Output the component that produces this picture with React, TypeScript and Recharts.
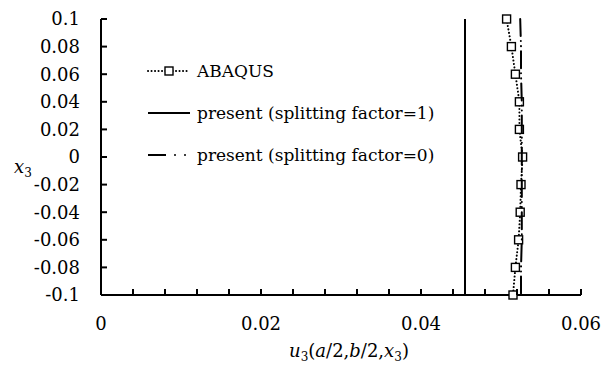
import React from 'react'
import { ScatterChart, Scatter, XAxis, YAxis, Legend } from 'recharts'

// x3 positions through the thickness (top to bottom)
const X3 = [0.1, 0.08, 0.06, 0.04, 0.02, 0, -0.02, -0.04, -0.06, -0.08, -0.1]

// u3(a/2, b/2, x3)
const U3_ABAQUS = [0.0507, 0.0513, 0.0518, 0.0523, 0.0523, 0.0527, 0.0525, 0.0524, 0.0522, 0.0518, 0.0515]
const U3_SF1 = [0.0455, 0.0455, 0.0455, 0.0455, 0.0455, 0.0455, 0.0455, 0.0455, 0.0455, 0.0455, 0.0455]
const U3_SF0 = [0.0524, 0.0525, 0.0525, 0.0526, 0.0526, 0.0526, 0.0526, 0.0526, 0.0526, 0.0525, 0.0525]

const X_TICKS = [0, 0.004, 0.008, 0.012, 0.016, 0.02, 0.024, 0.028, 0.032, 0.036, 0.04, 0.044, 0.048, 0.052, 0.056, 0.06]
const X_LABELS = [0, 0.02, 0.04, 0.06]
const Y_TICKS = [-0.1, -0.08, -0.06, -0.04, -0.02, 0, 0.02, 0.04, 0.06, 0.08, 0.1]

const FONT = 'DejaVu Serif'
const X_MARGIN = 22
const Y_MARGIN = 21

const toPoints = (u: number[]) => u.map((v, i) => ({ x: v, y: X3[i] }))

const abaqus = toPoints(U3_ABAQUS)
const sf1 = toPoints(U3_SF1)
const sf0 = toPoints(U3_SF0)

// ticks point inward, labels only every 0.02 on x
const XTick = (props: any) => {
  const { x, y, payload } = props
  const axisY = Number(y) - X_MARGIN
  const v = payload.value
  return (
    <g>
      <path d={`M${x},${axisY}V${axisY - 6}`} stroke="#000" strokeWidth={2} fill="none" />
      {X_LABELS.includes(v) && (
        <text x={x} y={y} dy="0.71em" textAnchor="middle" fontFamily={FONT} fontSize={18} fill="#000">
          {String(v)}
        </text>
      )}
    </g>
  )
}

const YTick = (props: any) => {
  const { x, y, payload } = props
  const axisX = Number(x) + Y_MARGIN
  return (
    <g>
      <path d={`M${axisX},${y}H${axisX + 6}`} stroke="#000" strokeWidth={2} fill="none" />
      <text x={x} y={y} dy="0.355em" textAnchor="end" fontFamily={FONT} fontSize={18} fill="#000">
        {String(payload.value)}
      </text>
    </g>
  )
}

const SquareMarker = (props: any) => {
  const { cx, cy } = props
  if (cx == null || cy == null) return <g />
  return <rect x={cx - 4} y={cy - 4} width={8} height={8} fill="#fff" stroke="#000" strokeWidth={1.4} />
}

const NoMarker = () => <g />

const legendRows = [
  {
    name: 'ABAQUS',
    icon: (
      <>
        <line x1={2} y1={6} x2={44} y2={6} stroke="#000" strokeWidth={2} strokeDasharray="0.1 3.4" strokeLinecap="round" />
        <rect x={19} y={2} width={8} height={8} fill="#fff" stroke="#000" strokeWidth={1.4} />
      </>
    ),
  },
  {
    name: 'present (splitting factor=1)',
    icon: <line x1={2} y1={6} x2={44} y2={6} stroke="#000" strokeWidth={2} />,
  },
  {
    name: 'present (splitting factor=0)',
    icon: (
      <>
        <line x1={2} y1={6} x2={20} y2={6} stroke="#000" strokeWidth={2} />
        <circle cx={29} cy={6} r={1} fill="#000" />
        <circle cx={39} cy={6} r={1} fill="#000" />
      </>
    ),
  },
]

const LegendBox = () => (
  <div style={{ fontFamily: FONT, fontSize: 17, color: '#000' }}>
    {legendRows.map(r => (
      <div key={r.name} style={{ display: 'flex', alignItems: 'center', height: 42 }}>
        <svg width={46} height={12}>{r.icon}</svg>
        <span style={{ marginLeft: 5, whiteSpace: 'nowrap' }}>{r.name}</span>
      </div>
    ))}
  </div>
)

const XTitle = () => (
  <text x={349} y={357} textAnchor="middle" fontFamily={FONT} fontSize={18} fill="#000">
    <tspan fontStyle="italic">u</tspan>
    <tspan fontSize={12} dy={4}>3</tspan>
    <tspan dy={-4}>(</tspan>
    <tspan fontStyle="italic">a</tspan>
    <tspan>/2,</tspan>
    <tspan fontStyle="italic">b</tspan>
    <tspan>/2,</tspan>
    <tspan fontStyle="italic">x</tspan>
    <tspan fontSize={12} dy={4}>3</tspan>
    <tspan dy={-4}>)</tspan>
  </text>
)

const YTitle = () => (
  <text x={14} y={173} fontFamily={FONT} fontSize={18} fill="#000">
    <tspan fontStyle="italic">x</tspan>
    <tspan fontSize={12} dy={4}>3</tspan>
  </text>
)

export default function App() {
  return (
    <div style={{ position: 'absolute', left: 0, top: 0, background: '#fff' }}>
      <ScatterChart width={614} height={365} margin={{ top: 19, right: 33, bottom: 10, left: 0 }}>
        <XAxis
          type="number"
          dataKey="x"
          domain={[0, 0.06]}
          ticks={X_TICKS}
          interval={0}
          height={60}
          tickSize={0}
          tickMargin={X_MARGIN}
          tick={<XTick />}
          tickLine={false}
          axisLine={{ stroke: '#000', strokeWidth: 2 }}
          label={{ content: () => <XTitle /> }}
        />
        <YAxis
          type="number"
          dataKey="y"
          domain={[-0.1, 0.1]}
          ticks={Y_TICKS}
          interval={0}
          width={101}
          tickSize={0}
          tickMargin={Y_MARGIN}
          tick={<YTick />}
          tickLine={false}
          axisLine={{ stroke: '#000', strokeWidth: 2 }}
          label={{ content: () => <YTitle /> }}
        />
        <Legend
          content={() => <LegendBox />}
          layout="horizontal"
          verticalAlign="middle"
          align="center"
          wrapperStyle={{ left: 146, top: 50, width: 'auto' }}
        />
        <Scatter
          name="ABAQUS"
          data={abaqus}
          line={{ stroke: '#000', strokeWidth: 2, strokeDasharray: '0.1 3.4', strokeLinecap: 'round' }}
          shape={<SquareMarker />}
          isAnimationActive={false}
        />
        <Scatter
          name="present (splitting factor=1)"
          data={sf1}
          line={{ stroke: '#000', strokeWidth: 2 }}
          shape={<NoMarker />}
          isAnimationActive={false}
        />
        <Scatter
          name="present (splitting factor=0)"
          data={sf0}
          line={{ stroke: '#000', strokeWidth: 2, strokeDasharray: '17 5 0.1 5 0.1 5', strokeLinecap: 'round' }}
          shape={<NoMarker />}
          isAnimationActive={false}
        />
      </ScatterChart>
    </div>
  )
}
